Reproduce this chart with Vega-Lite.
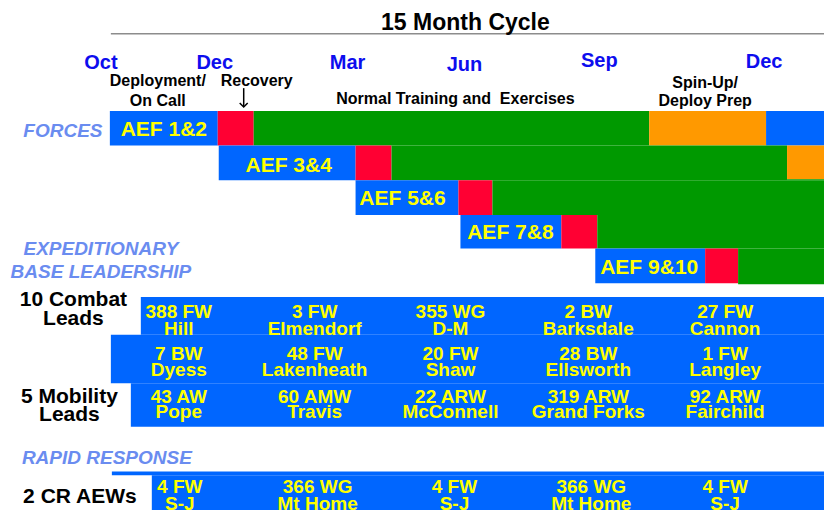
{
  "$schema": "https://vega.github.io/schema/vega-lite/v6.json",
  "width": 825,
  "height": 515,
  "padding": 0,
  "autosize": {"type": "fit", "contains": "padding"},
  "background": "white",
  "config": {"view": {"stroke": null}, "text": {"font": "Liberation Sans", "fontWeight": "bold", "baseline": "alphabetic", "align": "center"}},
  "datasets": {
    "rects": [
      {"x": 110, "x2": 218, "y": 112, "y2": 147, "p": "deploy"},
      {"x": 218, "x2": 254, "y": 112, "y2": 147, "p": "recovery"},
      {"x": 254, "x2": 650, "y": 112, "y2": 147, "p": "training"},
      {"x": 650, "x2": 767, "y": 112, "y2": 147, "p": "spinup"},
      {"x": 767, "x2": 825, "y": 112, "y2": 147, "p": "deploy"},
      {"x": 219, "x2": 356, "y": 147, "y2": 182, "p": "deploy"},
      {"x": 356, "x2": 392, "y": 147, "y2": 182, "p": "recovery"},
      {"x": 392, "x2": 788, "y": 147, "y2": 182, "p": "training"},
      {"x": 788, "x2": 825, "y": 147, "y2": 181, "p": "spinup"},
      {"x": 788, "x2": 825, "y": 181, "y2": 182, "p": "training"},
      {"x": 356, "x2": 459, "y": 182, "y2": 217, "p": "deploy"},
      {"x": 459, "x2": 493, "y": 182, "y2": 217, "p": "recovery"},
      {"x": 493, "x2": 825, "y": 182, "y2": 217, "p": "training"},
      {"x": 461, "x2": 562, "y": 217, "y2": 251, "p": "deploy"},
      {"x": 562, "x2": 598, "y": 217, "y2": 251, "p": "recovery"},
      {"x": 598, "x2": 825, "y": 217, "y2": 251, "p": "training"},
      {"x": 596, "x2": 706, "y": 251, "y2": 286, "p": "deploy"},
      {"x": 706, "x2": 739, "y": 251, "y2": 286, "p": "recovery"},
      {"x": 739, "x2": 825, "y": 251, "y2": 287, "p": "training"},
      {"x": 141, "x2": 825, "y": 300, "y2": 338, "p": "base"},
      {"x": 111, "x2": 825, "y": 338, "y2": 387, "p": "base"},
      {"x": 131, "x2": 825, "y": 387, "y2": 431, "p": "base"},
      {"x": 112, "x2": 825, "y": 476, "y2": 480, "p": "base"},
      {"x": 152, "x2": 825, "y": 480, "y2": 515, "p": "base"}
    ],
    "rules": [
      {"x": 111, "x2": 825, "y": 34, "y2": 34, "p": "underline"},
      {"x": 244, "x2": 244, "y": 89, "y2": 108, "p": "arrow"}
    ],
    "heads": [
      {"x": 244, "y": 108}
    ],
    "texts": [
      {"g": "title", "t": "15 Month Cycle", "x": 466, "y": 30},
      {"g": "month", "t": "Oct", "x": 101, "y": 70},
      {"g": "month", "t": "Dec", "x": 215, "y": 69.5},
      {"g": "month", "t": "Mar", "x": 348, "y": 69.5},
      {"g": "month", "t": "Jun", "x": 465, "y": 72},
      {"g": "month", "t": "Sep", "x": 600, "y": 68},
      {"g": "month", "t": "Dec", "x": 765, "y": 68.5},
      {"g": "phase", "t": "Deployment/", "x": 158, "y": 87},
      {"g": "phase", "t": "On Call", "x": 158, "y": 107},
      {"g": "phase", "t": "Recovery", "x": 257, "y": 86.5},
      {"g": "phase", "t": "Normal Training and \u00a0Exercises", "x": 456, "y": 105},
      {"g": "phase", "t": "Spin-Up/", "x": 706, "y": 89},
      {"g": "phase", "t": "Deploy Prep", "x": 706, "y": 107},
      {"g": "section", "t": "FORCES", "x": 63, "y": 138},
      {"g": "section", "t": "EXPEDITIONARY", "x": 101, "y": 258},
      {"g": "section", "t": "BASE LEADERSHIP", "x": 101, "y": 281},
      {"g": "section", "t": "RAPID RESPONSE", "x": 107, "y": 468.5},
      {"g": "aef", "t": "AEF 1&2", "x": 164, "y": 137.5},
      {"g": "aef", "t": "AEF 3&4", "x": 289, "y": 174},
      {"g": "aef", "t": "AEF 5&6", "x": 403, "y": 207},
      {"g": "aef", "t": "AEF 7&8", "x": 511, "y": 241},
      {"g": "aef", "t": "AEF 9&10", "x": 650, "y": 277},
      {"g": "row", "t": "10 Combat", "x": 73.5, "y": 308.5},
      {"g": "row", "t": "Leads", "x": 73.5, "y": 328.5},
      {"g": "row", "t": "5 Mobility", "x": 69.5, "y": 407},
      {"g": "row", "t": "Leads", "x": 69.5, "y": 425},
      {"g": "row", "t": "2 CR AEWs", "x": 80, "y": 508},
      {"g": "unit", "t": "388 FW", "x": 179, "y": 321},
      {"g": "unit", "t": "Hill", "x": 179, "y": 338},
      {"g": "unit", "t": "3 FW", "x": 315, "y": 321},
      {"g": "unit", "t": "Elmendorf", "x": 315, "y": 338},
      {"g": "unit", "t": "355 WG", "x": 451, "y": 321},
      {"g": "unit", "t": "D-M", "x": 451, "y": 338},
      {"g": "unit", "t": "2 BW", "x": 589, "y": 321},
      {"g": "unit", "t": "Barksdale", "x": 589, "y": 338},
      {"g": "unit", "t": "27 FW", "x": 726, "y": 321},
      {"g": "unit", "t": "Cannon", "x": 726, "y": 338},
      {"g": "unit", "t": "7 BW", "x": 179, "y": 363.5},
      {"g": "unit", "t": "Dyess", "x": 179, "y": 380},
      {"g": "unit", "t": "48 FW", "x": 315, "y": 363.5},
      {"g": "unit", "t": "Lakenheath", "x": 315, "y": 380},
      {"g": "unit", "t": "20 FW", "x": 451, "y": 363.5},
      {"g": "unit", "t": "Shaw", "x": 451, "y": 380},
      {"g": "unit", "t": "28 BW", "x": 589, "y": 363.5},
      {"g": "unit", "t": "Ellsworth", "x": 589, "y": 380},
      {"g": "unit", "t": "1 FW", "x": 726, "y": 363.5},
      {"g": "unit", "t": "Langley", "x": 726, "y": 380},
      {"g": "unit", "t": "43 AW", "x": 179, "y": 407},
      {"g": "unit", "t": "Pope", "x": 179, "y": 422.5},
      {"g": "unit", "t": "60 AMW", "x": 315, "y": 407},
      {"g": "unit", "t": "Travis", "x": 315, "y": 422.5},
      {"g": "unit", "t": "22 ARW", "x": 451, "y": 407},
      {"g": "unit", "t": "McConnell", "x": 451, "y": 422.5},
      {"g": "unit", "t": "319 ARW", "x": 589, "y": 407},
      {"g": "unit", "t": "Grand Forks", "x": 589, "y": 422.5},
      {"g": "unit", "t": "92 ARW", "x": 726, "y": 407},
      {"g": "unit", "t": "Fairchild", "x": 726, "y": 422.5},
      {"g": "unit", "t": "4 FW", "x": 180, "y": 498},
      {"g": "unit", "t": "S-J", "x": 180, "y": 515.5},
      {"g": "unit", "t": "366 WG", "x": 318, "y": 498},
      {"g": "unit", "t": "Mt Home", "x": 318, "y": 515.5},
      {"g": "unit", "t": "4 FW", "x": 455, "y": 498},
      {"g": "unit", "t": "S-J", "x": 455, "y": 515.5},
      {"g": "unit", "t": "366 WG", "x": 592, "y": 498},
      {"g": "unit", "t": "Mt Home", "x": 592, "y": 515.5},
      {"g": "unit", "t": "4 FW", "x": 726, "y": 498},
      {"g": "unit", "t": "S-J", "x": 726, "y": 515.5}
    ]
  },
  "encoding": {
    "x": {"field": "x", "type": "quantitative", "scale": {"domain": [0, 825], "nice": false, "zero": false}, "axis": null},
    "y": {"field": "y", "type": "quantitative", "scale": {"domain": [0, 515], "nice": false, "zero": false, "reverse": true}, "axis": null}
  },
  "layer": [
    {
      "data": {"name": "rects"},
      "mark": {"type": "rect", "strokeWidth": 0},
      "encoding": {
        "x2": {"field": "x2"},
        "y2": {"field": "y2"},
        "color": {"field": "p", "type": "nominal", "legend": null,
          "scale": {"domain": ["deploy", "recovery", "training", "spinup", "base", "underline", "arrow"], "range": ["#0066FF", "#FF0033", "#009900", "#FF9900", "#0066FF", "#8C8C8C", "#000000"]}}
      }
    },
    {
      "data": {"name": "rules"},
      "mark": {"type": "rule", "strokeWidth": 1.5},
      "encoding": {
        "x2": {"field": "x2"},
        "y2": {"field": "y2"},
        "color": {"field": "p", "type": "nominal", "legend": null,
          "scale": {"domain": ["deploy", "recovery", "training", "spinup", "base", "underline", "arrow"], "range": ["#0066FF", "#FF0033", "#009900", "#FF9900", "#0066FF", "#8C8C8C", "#000000"]}}
      }
    },
    {
      "data": {"name": "heads"},
      "mark": {"type": "point", "shape": "M-1,-1L0,0L1,-1", "filled": false, "stroke": "#000000", "strokeWidth": 1.5, "size": 64, "opacity": 1},
      "encoding": {}
    },
    {
      "data": {"name": "texts"},
      "transform": [{"filter": "datum.g == 'title'"}],
      "mark": {"type": "text", "fontSize": 23, "color": "#000000"},
      "encoding": {"text": {"field": "t"}}
    },
    {
      "data": {"name": "texts"},
      "transform": [{"filter": "datum.g == 'month'"}],
      "mark": {"type": "text", "fontSize": 20, "color": "#0D0DEE"},
      "encoding": {"text": {"field": "t"}}
    },
    {
      "data": {"name": "texts"},
      "transform": [{"filter": "datum.g == 'phase'"}],
      "mark": {"type": "text", "fontSize": 16, "color": "#000000"},
      "encoding": {"text": {"field": "t"}}
    },
    {
      "data": {"name": "texts"},
      "transform": [{"filter": "datum.g == 'section'"}],
      "mark": {"type": "text", "fontSize": 19, "fontStyle": "italic", "color": "#6A8CF0"},
      "encoding": {"text": {"field": "t"}}
    },
    {
      "data": {"name": "texts"},
      "transform": [{"filter": "datum.g == 'aef'"}],
      "mark": {"type": "text", "fontSize": 21, "color": "#FFFF00"},
      "encoding": {"text": {"field": "t"}}
    },
    {
      "data": {"name": "texts"},
      "transform": [{"filter": "datum.g == 'row'"}],
      "mark": {"type": "text", "fontSize": 21, "color": "#000000"},
      "encoding": {"text": {"field": "t"}}
    },
    {
      "data": {"name": "texts"},
      "transform": [{"filter": "datum.g == 'unit'"}],
      "mark": {"type": "text", "fontSize": 19, "color": "#FFFF00"},
      "encoding": {"text": {"field": "t"}}
    }
  ]
}
